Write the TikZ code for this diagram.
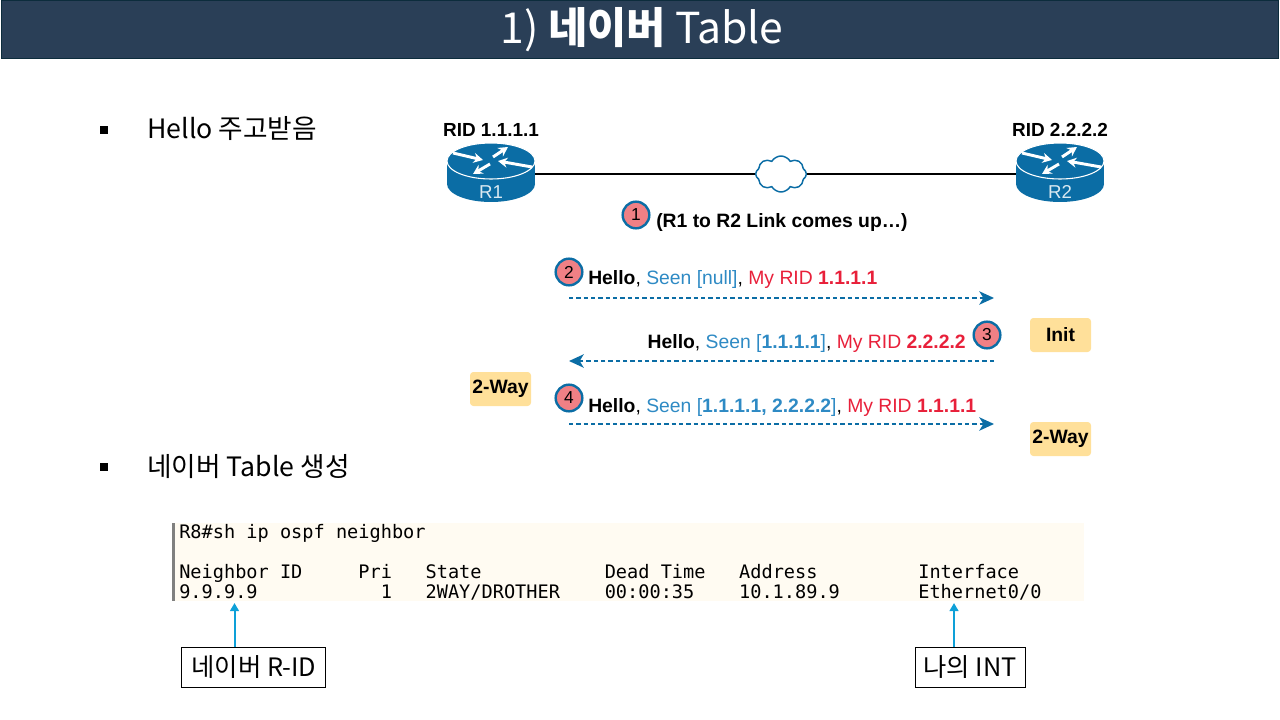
\documentclass[tikz,border=0pt]{standalone}
\usepackage{fontspec}
\usepackage{xcolor}
\usetikzlibrary{arrows.meta, shapes.symbols}
\setmainfont{Noto Sans CJK KR}
\newfontfamily\diagfont{Liberation Sans}
\newfontfamily\termfont{DejaVu Sans Mono}
\definecolor{barblue}{HTML}{2A3F57}
\definecolor{barline}{HTML}{0C2C3C}
\definecolor{ciscoblue}{HTML}{0B6DA5}
\definecolor{seenblue}{HTML}{2E8AC4}
\definecolor{ridred}{HTML}{E8203A}
\definecolor{steppink}{HTML}{F08085}
\definecolor{badgeyellow}{HTML}{FFE09A}
\definecolor{termcream}{HTML}{FFFBF2}
\definecolor{tipblue}{HTML}{0EA0D8}

\begin{document}
\begin{tikzpicture}[x=0.75pt, y=-0.75pt,
  bullet/.style={font=\fontsize{20}{24}\selectfont, anchor=west, inner sep=0pt},
  rid/.style={font=\diagfont\bfseries\fontsize{14.2}{17}\selectfont, inner sep=0pt},
  stepnum/.style={circle, draw=ciscoblue, line width=1.8pt, fill=steppink, minimum size=20pt, inner sep=0pt, font=\diagfont\fontsize{13}{15}\selectfont},
  msg/.style={font=\diagfont\fontsize{14.5}{17}\selectfont, inner sep=0pt},
  badge/.style={rounded corners=2.5pt, fill=badgeyellow, minimum width=45.75pt, minimum height=25.5pt, inner sep=0pt, font=\diagfont\bfseries\fontsize{14.5}{17}\selectfont},
  hello/.style={-{Stealth[length=11pt, width=10pt, inset=3pt]}, ciscoblue, line width=1.5pt, dash pattern=on 3.3pt off 2.2pt},
  termrow/.style={anchor=west, inner sep=0pt, font=\termfont\fontsize{13.95}{16}\selectfont\frenchspacing},
  callout/.style={draw, line width=0.75pt, fill=white, minimum height=30pt, inner sep=0pt, font=\fontsize{19}{23}\selectfont},
  pointer/.style={-{Stealth[length=6pt, width=6.5pt, inset=0pt]}, tipblue, line width=1.5pt},
  routerbox/.style={minimum width=66pt, minimum height=42pt, inner sep=0pt},
]
  \useasboundingbox (0,0) rectangle (1280,720);

  % Title bar
  \node[draw=barline, line width=1.2pt, fill=barblue, minimum width=958pt, minimum height=43.5pt, inner sep=0pt] (bar) at (640,29.5) {};
  \node[text=white, inner sep=0pt, font=\fontsize{32}{38}\selectfont] (title) at (642,30) {1) {\bfseries 네이버} Table};

  % Bullets
  \node[fill=black, minimum size=5.5pt, inner sep=0pt] (dot1) at (104,130) {};
  \node[bullet] (hellotxt) at (147,129) {Hello 주고받음};
  \node[fill=black, minimum size=5.5pt, inner sep=0pt] (dot2) at (104,467) {};
  \node[bullet] (tabletxt) at (147,467) {네이버 Table 생성};

  % Routers
  \foreach \rname/\rx/\rlab/\rid in {r1/491/R1/1.1.1.1, r2/1060/R2/2.2.2.2} {
    \node[routerbox] (\rname) at (\rx,174) {};
    \begin{scope}[shift={(\rx,161)}]
      \fill[ciscoblue] (0,23) ellipse [x radius=44, y radius=18];
      \fill[ciscoblue] (-44,0) rectangle (44,23);
      \filldraw[fill=ciscoblue, draw=white, line width=0.8pt] (0,0) ellipse [x radius=44, y radius=18];
      \foreach \ax/\ay/\bx/\by in {-38/-8/-8/-1, 2/-4/17/-14, 41/6/7/0, -1/3/-18/13}
        \draw[-{Stealth[length=7pt, width=7.5pt]}, white, line width=2.2pt] (\ax,\ay) -- (\bx,\by);
      \node[text=white!85!ciscoblue, inner sep=0pt, font=\diagfont\fontsize{14}{16}\selectfont] (\rname lab) at (0,31) {\rlab};
    \end{scope}
    \node[rid] (\rname rid) at (\rx,130) {RID \rid};
  }

  % Link and cloud
  \node[cloud, cloud puffs=8, cloud puff arc=120, aspect=1.4, draw=ciscoblue, line width=1.1pt, fill=white, minimum width=38pt, minimum height=27pt, inner sep=0pt] (wan) at (781,174) {};
  \draw[line width=1.7pt] (r1.east) -- (wan.west);
  \draw[line width=1.7pt] (wan.east) -- (r2.west);

  % Step 1
  \node[stepnum] (s1) at (636,215) {1};
  \node[msg, anchor=west, font=\diagfont\bfseries\fontsize{14.5}{17}\selectfont] (linkup) at (656,223) {(R1 to R2 Link comes up…)};

  % Hello messages
  \node[stepnum] (s2) at (569,272) {2};
  \node[msg, anchor=west] (m2) at (588,280) {\textbf{Hello}, \textcolor{seenblue}{Seen [null]}, \textcolor{ridred}{My RID \textbf{1.1.1.1}}};
  \coordinate (a2l) at (569,298);
  \coordinate (a2r) at (994,298);
  \draw[hello] (a2l) -- (a2r);

  \node[stepnum] (s3) at (987,335) {3};
  \node[msg, anchor=east] (m3) at (966,343.5) {\textbf{Hello}, \textcolor{seenblue}{Seen [\textbf{1.1.1.1}]}, \textcolor{ridred}{My RID \textbf{2.2.2.2}}};
  \coordinate (a3l) at (569,361);
  \coordinate (a3r) at (994,361);
  \draw[hello] (a3r) -- (a3l);

  \node[stepnum] (s4) at (569,398) {4};
  \node[msg, anchor=west] (m4) at (588,407) {\textbf{Hello}, \textcolor{seenblue}{Seen [\textbf{1.1.1.1, 2.2.2.2}]}, \textcolor{ridred}{My RID \textbf{1.1.1.1}}};
  \coordinate (a4l) at (569,424);
  \coordinate (a4r) at (994,424);
  \draw[hello] (a4l) -- (a4r);

  % State badges
  \node[badge] (init) at (1060.5,335) {Init};
  \node[badge] (way1) at (500.5,389) {2-Way};
  \node[badge] (way2) at (1060.5,439) {2-Way};

  % Terminal output
  \node[fill=termcream, minimum width=684pt, minimum height=58.5pt, inner sep=0pt] (term) at (628,562) {};
  \node[fill=gray, minimum width=2pt, minimum height=58.5pt, inner sep=0pt] (termbar) at (173.5,562) {};
  \node[termrow] (row1) at (179,533) {R8\#sh ip ospf neighbor};
  \node[termrow] (row3) at (179,573) {Neighbor~ID~~~~~Pri~~~State~~~~~~~~~~~Dead~Time~~~Address~~~~~~~~~Interface};
  \node[termrow] (row4) at (179,592) {9.9.9.9~~~~~~~~~~~1~~~2WAY/DROTHER~~~~00:00:35~~~~10.1.89.9~~~~~~~Ethernet0/0};

  % Callouts
  \node[callout, minimum width=108pt] (ridbox) at (253.75,667) {네이버 R-ID};
  \node[callout, minimum width=82.5pt] (intbox) at (970,667) {나의 INT};
  \coordinate (ridtip) at (234.5,603);
  \coordinate (inttip) at (954,603);
  \draw[pointer] (ridbox.north -| ridtip) -- (ridtip);
  \draw[pointer] (intbox.north -| inttip) -- (inttip);

\end{tikzpicture}
\end{document}
